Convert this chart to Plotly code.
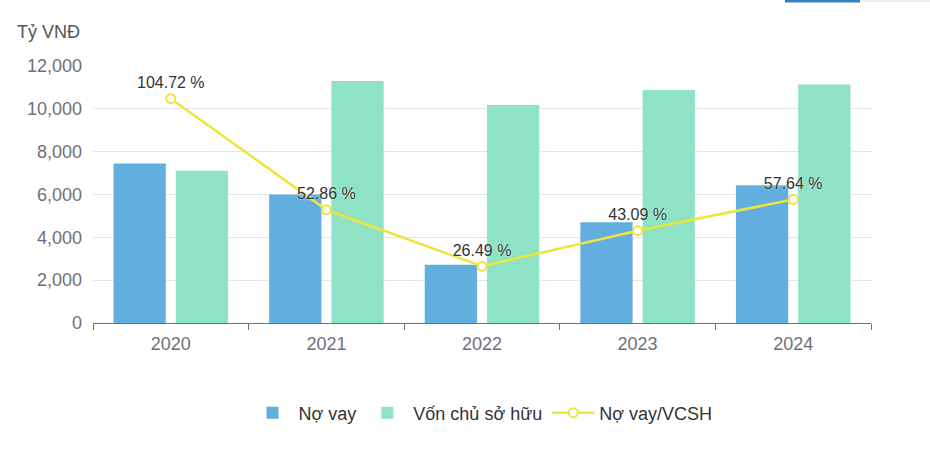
import plotly.graph_objects as go

years = ["2020", "2021", "2022", "2023", "2024"]
no_vay = [7450, 6000, 2720, 4710, 6430]
von_csh = [7110, 11300, 10180, 10880, 11140]
ratio = [104.72, 52.86, 26.49, 43.09, 57.64]
ratio_labels = [f"{v:.2f} %" for v in ratio]
y_ticks = [0, 2000, 4000, 6000, 8000, 10000, 12000]

FONT = "Liberation Sans, Arial, sans-serif"

fig = go.Figure()
fig.add_trace(go.Bar(x=years, y=no_vay, name="Nợ vay", marker_color="#62afdf",
                     marker_line_width=0))
fig.add_trace(go.Bar(x=years, y=von_csh, name="Vốn chủ sở hữu", marker_color="#8de3c4",
                     marker_line_width=0))
fig.add_trace(go.Scatter(x=years, y=ratio, name="Nợ vay/VCSH", yaxis="y2",
                         mode="lines+markers+text", text=ratio_labels,
                         textposition="top center",
                         textfont=dict(size=16, color="#333333", family=FONT,
                                       shadow="0px 0px 2px white"),
                         line=dict(color="#ede53e", width=2.5),
                         marker=dict(symbol="circle", size=9, color="white",
                                     line=dict(color="#ede53e", width=2))))

fig.update_layout(
    width=930, height=450,
    margin=dict(l=93, r=59, t=66, b=127),
    paper_bgcolor="white", plot_bgcolor="white",
    font=dict(family=FONT, size=18, color="#6e7079"),
    barmode="group", bargap=0.2, bargroupgap=0.16,
    showlegend=True,
    legend=dict(orientation="h", x=0.5, xanchor="center", y=-0.35, yanchor="middle",
                font=dict(size=18, color="#333333"), itemwidth=42),
    xaxis=dict(type="category", showline=True, linecolor="#6e7079", linewidth=1,
               ticks="outside", tickson="boundaries", ticklen=6, tickcolor="#6e7079",
               showgrid=False, ticklabelstandoff=4,
               tickfont=dict(size=18, color="#6e7079")),
    yaxis=dict(range=[0, 12000], tickvals=y_ticks, tickformat=",d",
               showgrid=True, gridcolor="#e0e6f1", gridwidth=1, zeroline=False,
               showline=False, ticks="", ticklabelstandoff=10,
               tickfont=dict(size=18, color="#6e7079")),
    yaxis2=dict(range=[0, 120], overlaying="y", side="right", visible=False),
    annotations=[dict(text="Tỷ VNĐ", xref="paper", yref="paper", x=(15-93)/778,
                      y=(323-32)/257, xanchor="left", yanchor="middle", showarrow=False,
                      font=dict(size=18, color="#555555"))],
    shapes=[
        dict(type="rect", xref="paper", yref="paper", x0=(785-93)/778, x1=(860-93)/778,
             y0=(323-0)/257, y1=(323-2.5)/257, fillcolor="#3a7ec2", line_width=0),
        dict(type="rect", xref="paper", yref="paper", x0=(860-93)/778, x1=(930-93)/778,
             y0=(323-0.5)/257, y1=(323-1.8)/257, fillcolor="#e6e6e6", line_width=0),
    ],
)

fig.write_html("out.html", config={"displayModeBar": False},
               post_script="document.body.style.margin='0px';")
